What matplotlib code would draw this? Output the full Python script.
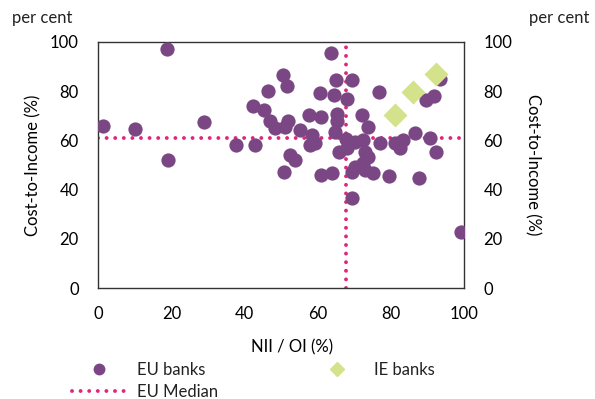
import matplotlib.pyplot as plt
from matplotlib.lines import Line2D

plt.rcParams['font.family'] = ['Lato', 'DejaVu Sans']
plt.rcParams['font.size'] = 12
plt.rcParams['text.color'] = '#222222'

# EU banks: NII / OI (%) vs Cost-to-Income (%)
eu_nii = [1.4, 10, 18.9, 19, 29,
          37.7, 42.9, 42.2, 45.2, 46.4, 50.4, 51.5,
          47, 48.4, 52, 51, 55.2,
          50.9, 52.5, 53.8,
          57.5, 60.8, 60.7, 63.7, 64.5, 65.1, 65.2, 65.2, 64.8,
          58.4, 57.9, 59.3, 67.8, 65.7,
          61, 63.8,
          69.3, 68.1, 76.8, 72, 73.8,
          70.2, 72.4, 77, 81.1, 83.3, 82.5, 86.6, 90.7, 92.3,
          72.9, 73.8, 67.9, 70.2, 72.5, 73, 75.2, 79.6, 87.7, 69.3,
          69.3, 99.2, 89.6, 91.8, 93.4]
eu_cti = [66, 64.6, 97, 52, 67.5,
          58.1, 58.1, 74.1, 72.4, 80, 86.6, 82,
          67.9, 65.2, 67.9, 65.6, 64.2,
          47, 54, 52,
          70.3, 69.6, 79.4, 95.4, 78.5, 84.6, 70.7, 68, 63.5,
          62.2, 58.1, 58.8, 60.6, 55.4,
          45.9, 46.6,
          84.6, 76.7, 79.6, 70.3, 65.6,
          59.5, 60.2, 58.8, 58.8, 60.2, 56.8, 62.9, 60.8, 55.4,
          55.4, 53.4, 56.8, 49.3, 50.7, 48, 46.6, 45.7, 44.6, 47.3,
          36.7, 22.9, 76.4, 78.2, 84.8]

# IE banks
ie_nii = [81.1, 86.1, 92.3]
ie_cti = [70.3, 79.8, 87]

# EU medians
median_nii = 67.8
median_cti = 61.1

ticks = [0, 20, 40, 60, 80, 100]

purple = '#7a4784'
lime = '#d5e28c'
pink = '#e0267a'

fig = plt.figure(figsize=(5.95, 3.99), dpi=100)
ax = fig.add_axes([0.165, 0.278, 0.615, 0.617])

ax.scatter(eu_nii, eu_cti, s=105, color=purple, linewidths=0, zorder=3)
ax.scatter(ie_nii, ie_cti, s=150, marker='D', color=lime, linewidths=0, zorder=4)
ax.axvline(median_nii, color=pink, lw=2.8, linestyle=(0, (0.01, 2.2)),
           dash_capstyle='round', zorder=2)
ax.axhline(median_cti, color=pink, lw=2.8, linestyle=(0, (0.01, 2.2)),
           dash_capstyle='round', zorder=2)

ax.set_xlim(0, 100)
ax.set_ylim(0, 100)
ax.set_xticks(ticks)
ax.set_yticks(ticks)
ax.tick_params(length=0, pad=14)
ax.tick_params(axis='x', pad=13)
for s in ax.spines.values():
    s.set_color('#333333')
    s.set_linewidth(1.0)
ax.set_xlabel('NII / OI (%)')
ax.xaxis.set_label_coords(0.53, -0.21)
ax.set_ylabel('Cost-to-Income (%)')
ax.yaxis.set_label_coords(-0.155, 0.5)

ax2 = ax.twinx()
ax2.set_ylim(0, 100)
ax2.set_yticks(ticks)
ax2.tick_params(length=0, pad=14)
ax2.set_ylabel('Cost-to-Income (%)', rotation=270)
ax2.yaxis.set_label_coords(1.21, 0.5)
for s in ax2.spines.values():
    s.set_visible(False)

fig.text(0.02, 0.955, 'per cent', ha='left', va='center')
fig.text(0.99, 0.955, 'per cent', ha='right', va='center')

handles = [
    Line2D([], [], marker='o', color=purple, linestyle='none', markersize=7.5),
    Line2D([], [], color=pink, lw=2.8, linestyle=(0, (0.01, 2.2)),
           dash_capstyle='round'),
    Line2D([], [], marker='D', color=lime, linestyle='none', markersize=7),
]
labels = ['EU banks', 'EU Median', 'IE banks']
fig.legend(handles, labels, ncol=2, frameon=False, loc='lower left',
           bbox_to_anchor=(0.095, -0.04), handlelength=3.3, handletextpad=0.6,
           columnspacing=5.5, labelspacing=0.35)

fig.savefig('out.png', dpi=100)
